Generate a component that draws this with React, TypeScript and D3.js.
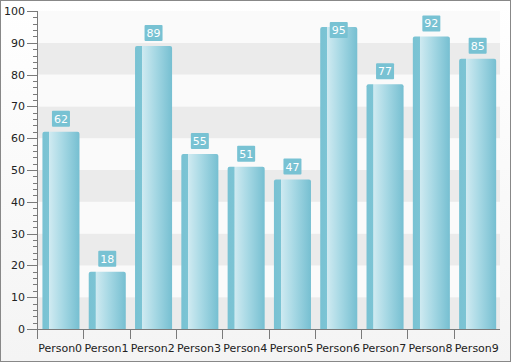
import React from 'react';
import * as d3 from 'd3';

const categories = ['Person0', 'Person1', 'Person2', 'Person3', 'Person4', 'Person5', 'Person6', 'Person7', 'Person8', 'Person9'];
const values = [62, 18, 89, 55, 51, 47, 95, 77, 92, 85];
const yTicks = [0, 10, 20, 30, 40, 50, 60, 70, 80, 90, 100];

const W = 511;
const H = 362;
const margin = { top: 11, right: 11, bottom: 33, left: 37 };

export default function App() {
  const plotW = W - margin.left - margin.right;
  const plotH = H - margin.top - margin.bottom;

  const x = d3.scaleBand<string>().domain(categories).range([0.8, plotW + 0.8]).paddingInner(0.2).paddingOuter(0.1);
  const bandX = d3.scaleBand<string>().domain(categories).range([0, plotW]);
  const y = d3.scaleLinear().domain([0, 100]).range([plotH, 0]);
  const minorTicks = d3.range(0, 101, 2).filter(v => v % 10 !== 0);

  const font = '"DejaVu Sans", Verdana, sans-serif';
  const axisColor = '#7a7a7a';

  return (
    <svg width={W} height={H} style={{ position: 'fixed', left: 0, top: 0 }}>
      <defs>
        <linearGradient id="bg" x1="0" y1="0" x2="0" y2="1">
          <stop offset="0%" stopColor="#ffffff" />
          <stop offset="100%" stopColor="#f4f4f4" />
        </linearGradient>
        <linearGradient id="bar" x1="0" y1="0" x2="1" y2="0">
          <stop offset="0%" stopColor="#79c2d3" />
          <stop offset="18%" stopColor="#7cc4d4" />
          <stop offset="19%" stopColor="#cfeaf1" />
          <stop offset="55%" stopColor="#a6d8e4" />
          <stop offset="100%" stopColor="#76bfd1" />
        </linearGradient>
      </defs>
      <rect x={0.5} y={0.5} width={W - 1} height={H - 1} fill="url(#bg)" stroke="#888" />
      <g transform={`translate(${margin.left},${margin.top})`}>
        {yTicks.slice(0, -1).map((t, i) => (
          <rect key={t} x={0} y={y(t + 10)} width={plotW} height={y(t) - y(t + 10)}
            fill={i % 2 === 0 ? '#ebebeb' : '#fafafa'} />
        ))}
        {values.map((v, i) => {
          const bx = x(categories[i])!;
          const bw = x.bandwidth();
          const top = y(v);
          const cx = bx + bw / 2;
          const label = String(v);
          const lw = label.length * 7 + 4;
          // label goes above the bar unless it would leave the plot area
          const boxY = top - 21 < 0 ? top - 5 : top - 21;
          return (
            <g key={categories[i]}>
              <path
                d={`M${bx},${plotH} V${top + 2} Q${bx},${top} ${bx + 2},${top} H${bx + bw - 2} Q${bx + bw},${top} ${bx + bw},${top + 2} V${plotH} Z`}
                fill="url(#bar)" />
              <rect x={cx - lw / 2} y={boxY} width={lw} height={16} fill="#78c2d3" rx={1} />
              <text x={cx} y={boxY + 12} textAnchor="middle" fill="#fff" fontFamily={font} fontSize={11}>{label}</text>
            </g>
          );
        })}
        {/* y axis */}
        <line x1={0.5} x2={0.5} y1={0} y2={plotH} stroke={axisColor} />
        {minorTicks.map(t => (
          <line key={t} x1={-4} x2={0} y1={Math.round(y(t)) + 0.5} y2={Math.round(y(t)) + 0.5} stroke={axisColor} />
        ))}
        {yTicks.map(t => (
          <g key={t}>
            <line x1={-10} x2={0} y1={Math.round(y(t)) + 0.5} y2={Math.round(y(t)) + 0.5} stroke={axisColor} />
            <text x={-12} y={y(t) + 4} textAnchor="end" fill="#222" fontFamily={font} fontSize={11}>{t}</text>
          </g>
        ))}
        {/* x axis */}
        <line x1={0} x2={plotW} y1={plotH + 0.5} y2={plotH + 0.5} stroke={axisColor} />
        {categories.map(c => (
          <g key={c}>
            <line x1={Math.round(bandX(c)!) + 0.5} x2={Math.round(bandX(c)!) + 0.5} y1={plotH} y2={plotH + 10} stroke={axisColor} />
            <text x={bandX(c)! + bandX.bandwidth() / 2} y={plotH + 23} textAnchor="middle" fill="#222" fontFamily={font} fontSize={11}>{c}</text>
          </g>
        ))}
      </g>
    </svg>
  );
}
